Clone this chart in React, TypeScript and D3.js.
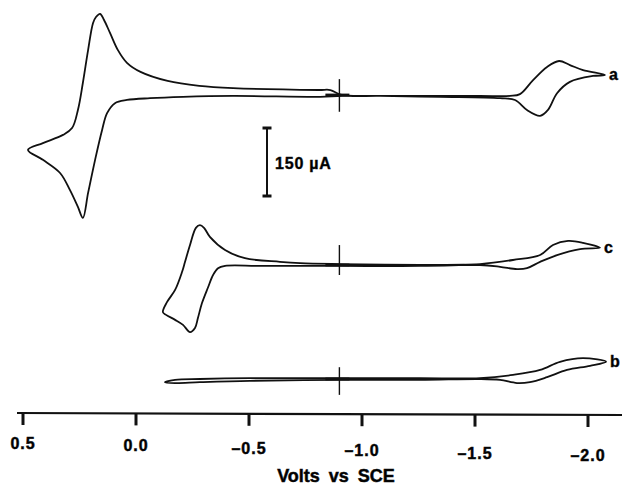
import React, { useEffect, useRef } from "react";
import * as d3 from "d3";

// potential (V vs SCE), current (µA, relative to each trace's own baseline)
const traceA_V = [-0.91, -0.86, -0.81, -0.43, -0.28, -0.14, -0.02, 0.04, 0.08, 0.115, 0.142, 0.159, 0.177, 0.19, 0.212, 0.235, 0.257, 0.283, 0.323, 0.412, 0.478, 0.412, 0.336, 0.292, 0.257, 0.235, 0.212, 0.181, 0.15, 0.128, 0.093, 0.04, -0.062, -0.208, -0.429, -0.814, -0.912, -1.168, -1.522, -1.655, -1.699, -1.757, -1.819, -1.872, -1.92, -1.978, -2.075, -2.022, -1.92, -1.863, -1.823, -1.788, -1.73, -1.677, -1.611, -1.345, -1.08];
const traceA_I = [0, 11, 11, 15, 20, 31, 51, 71, 99, 137, 166, 179, 172, 159, 99, 27, -33, -73, -88, -106, -121, -143, -172, -210, -247, -271, -216, -143, -77, -40, -18, -11, -7, -4, -2, -4, -2, -2, -2, -2, 2, 33, 62, 75, 66, 55, 44, 42, 29, 4, -33, -46, -33, -11, -7, -4, -2];

const traceC_V = [-0.903, -0.726, -0.637, -0.482, -0.394, -0.327, -0.301, -0.283, -0.265, -0.239, -0.217, -0.204, -0.173, -0.137, -0.119, -0.133, -0.173, -0.208, -0.239, -0.261, -0.274, -0.292, -0.319, -0.341, -0.363, -0.394, -0.549, -0.903, -1.257, -1.522, -1.668, -1.788, -1.845, -1.912, -1.978, -2.053, -1.965, -1.863, -1.788, -1.73, -1.686, -1.611, -1.522, -1.257];
const traceC_I = [2, 4, 7, 15, 33, 62, 82, 88, 82, 44, 7, -15, -55, -82, -104, -110, -121, -132, -148, -139, -117, -84, -49, -22, -7, -2, -2, -2, -2, 2, 11, 22, 44, 53, 49, 38, 35, 22, 7, -7, -9, -4, 0, 0];

const traceB_V = [-0.903, -0.504, -0.283, -0.173, -0.128, -0.173, -0.283, -0.504, -0.903, -1.257, -1.522, -1.611, -1.686, -1.743, -1.819, -1.907, -2.009, -2.08, -1.978, -1.876, -1.788, -1.668, -1.522, -1.257];
const traceB_I = [2, 2, 0, -2, -7, -9, -7, -4, -2, -2, 0, -2, -9, -7, 4, 20, 29, 38, 46, 38, 20, 9, 2, 2];

const traceNames = ["a", "c", "b"];
// vertical marker at the start potential, µA above/below baseline
const markerV = -0.9;
const markerUp = [35, 44, 26];
const markerDown = [-37, -22, -35];

const tickValues = [0.5, 0.0, -0.5, -1.0, -1.5, -2.0];
const tickLabels = ["0.5", "0.0", "–0.5", "–1.0", "–1.5", "–2.0"];
const scaleBarUA = 150;

const FONT = "'Liberation Sans', Arial, sans-serif";

export default function App() {
  const ref = useRef<SVGSVGElement | null>(null);

  useEffect(() => {
    const svg = d3.select(ref.current);
    svg.selectAll("*").remove();

    const xScale = d3.scaleLinear().domain([0.5, -2.0]).range([23, 588]);
    const pxPerUA = 68 / 150;
    const baselines = [95, 265, 379];

    const traces = [
      d3.zip(traceA_V, traceA_I),
      d3.zip(traceC_V, traceC_I),
      d3.zip(traceB_V, traceB_I),
    ];

    const g = svg.append("g");

    traces.forEach((pts, i) => {
      const yScale = d3
        .scaleLinear()
        .domain([0, 150])
        .range([baselines[i], baselines[i] - 150 * pxPerUA]);

      const line = d3
        .line<number[]>()
        .x((d) => xScale(d[0]))
        .y((d) => yScale(d[1]))
        .curve(d3.curveCatmullRomClosed.alpha(0.5));

      g.append("path")
        .attr("d", line(pts as number[][]))
        .attr("fill", "none")
        .attr("stroke", "#111")
        .attr("stroke-width", 1.8)
        .attr("stroke-linejoin", "round");

      // start marker
      g.append("line")
        .attr("x1", xScale(markerV))
        .attr("x2", xScale(markerV))
        .attr("y1", yScale(markerUp[i]))
        .attr("y2", yScale(markerDown[i]))
        .attr("stroke", "#111")
        .attr("stroke-width", 1.4);
      g.append("line")
        .attr("x1", xScale(markerV) - 14)
        .attr("x2", xScale(markerV) + 10)
        .attr("y1", yScale(0))
        .attr("y2", yScale(0))
        .attr("stroke", "#111")
        .attr("stroke-width", 2.8);

      // trace label
      const tip = d3.min(pts, (d) => d[0]) as number;
      const tipPt = pts.find((d) => d[0] === tip) as number[];
      g.append("text")
        .attr("x", xScale(tip) + 4)
        .attr("y", yScale(tipPt[1]) + 5)
        .attr("font-family", FONT)
        .attr("font-weight", "bold")
        .attr("font-size", 16)
        .attr("stroke", "#111")
        .attr("stroke-width", 0.4)
        .text(traceNames[i]);
    });

    // scale bar
    const barX = 267;
    const barY0 = 196;
    const barY1 = barY0 - scaleBarUA * pxPerUA;
    g.append("line")
      .attr("x1", barX).attr("x2", barX)
      .attr("y1", barY0).attr("y2", barY1)
      .attr("stroke", "#111").attr("stroke-width", 2);
    [barY0, barY1].forEach((y) => {
      g.append("line")
        .attr("x1", barX - 4.5).attr("x2", barX + 4.5)
        .attr("y1", y).attr("y2", y)
        .attr("stroke", "#111").attr("stroke-width", 3);
    });
    g.append("text")
      .attr("x", 275)
      .attr("y", 169)
      .attr("font-family", FONT)
      .attr("font-weight", "bold")
      .attr("font-size", 16)
      .attr("letter-spacing", 0.8)
      .attr("stroke", "#111")
      .attr("stroke-width", 0.4)
      .text(`${scaleBarUA} µA`);

    // x axis
    const axisY = 413;
    g.append("line")
      .attr("x1", 17).attr("x2", 622)
      .attr("y1", axisY).attr("y2", axisY + 2)
      .attr("stroke", "#111").attr("stroke-width", 2.2);

    const ticks = g.selectAll(".tick")
      .data(tickValues)
      .join("g")
      .attr("class", "tick");
    ticks.append("line")
      .attr("x1", (d) => xScale(d))
      .attr("x2", (d) => xScale(d))
      .attr("y1", (d, i) => axisY + i * 0.4)
      .attr("y2", (d, i) => axisY + 12 + i * 0.4)
      .attr("stroke", "#111")
      .attr("stroke-width", 3);
    ticks.append("text")
      .attr("x", (d) => xScale(d))
      .attr("y", (d, i) => 449 + i * 2.4)
      .attr("text-anchor", "middle")
      .attr("font-family", FONT)
      .attr("font-weight", "bold")
      .attr("font-size", 16)
      .attr("letter-spacing", 1)
      .attr("stroke", "#111")
      .attr("stroke-width", 0.5)
      .text((d, i) => tickLabels[i]);

    g.append("text")
      .attr("x", 336)
      .attr("y", 482)
      .attr("text-anchor", "middle")
      .attr("font-family", FONT)
      .attr("font-weight", "bold")
      .attr("font-size", 18)
      .attr("word-spacing", 4)
      .attr("stroke", "#111")
      .attr("stroke-width", 0.5)
      .text("Volts vs SCE");
  }, []);

  return (
    <div style={{ position: "absolute", left: 0, top: 0 }}>
      <svg ref={ref} width={622} height={485} style={{ display: "block", background: "#fff" }} />
    </div>
  );
}
